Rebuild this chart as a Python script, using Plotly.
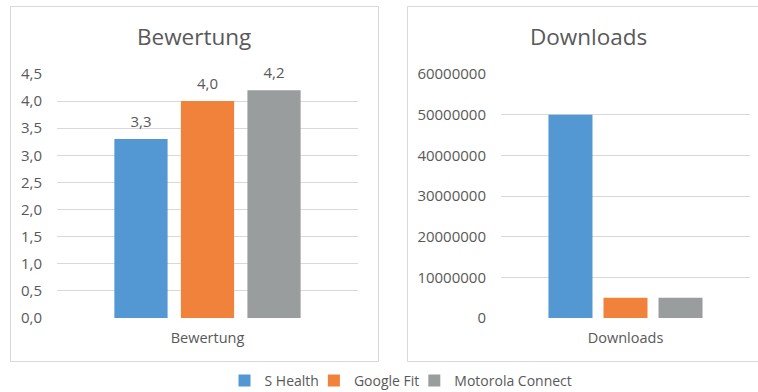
import plotly.graph_objects as go

W, H = 758, 392

series = ["S Health", "Google Fit", "Motorola Connect"]
colors = ["#5397D3", "#F0823B", "#9A9D9D"]
rating_cat = ["Bewertung"]
ratings = [3.3, 4.0, 4.2]
download_cat = ["Downloads"]
downloads = [50000000, 5000000, 5000000]
rating_ticks = [0, 0.5, 1.0, 1.5, 2.0, 2.5, 3.0, 3.5, 4.0, 4.5]
download_ticks = [0, 10000000, 20000000, 30000000, 40000000, 50000000, 60000000]

FONT = "Open Sans"
TXT = "#595959"
GRID = "#D9D9D9"

def px(x):
    return x / W

def py(y):
    return 1 - y / H

fig = go.Figure()
for i, name in enumerate(series):
    fig.add_trace(go.Bar(
        x=rating_cat, y=[ratings[i]], name=name, marker_color=colors[i],
        marker_line_width=0, xaxis="x", yaxis="y", legendgroup=name,
        offsetgroup=str(i),
    ))
# data labels above the rating bars
for i, name in enumerate(series):
    fig.add_trace(go.Scatter(
        x=rating_cat, y=[ratings[i]], mode="markers+text", name=name,
        marker=dict(size=12, opacity=0), offsetgroup=str(i),
        texttemplate="%{y:.1f}", textposition="top center",
        textfont=dict(family=FONT, size=15, color=TXT), cliponaxis=False,
        xaxis="x", yaxis="y", showlegend=False, hoverinfo="skip",
    ))
for i, name in enumerate(series):
    fig.add_trace(go.Bar(
        x=download_cat, y=[downloads[i]], name=name, marker_color=colors[i],
        marker_line_width=0, xaxis="x2", yaxis="y2", legendgroup=name,
        showlegend=False, offsetgroup=str(i),
    ))

ydom = [py(318), py(74)]
common_x = dict(showgrid=False, zeroline=False, showline=False, ticks="",
                tickfont=dict(family=FONT, size=14.5, color=TXT), fixedrange=True,
                ticklabelstandoff=9)
common_y = dict(showgrid=True, gridcolor=GRID, gridwidth=1, zeroline=False,
                showline=False, ticks="", tickfont=dict(family=FONT, size=15, color=TXT),
                domain=ydom, ticklabelstandoff=14)

fig.update_layout(
    width=W, height=H, margin=dict(l=0, r=0, t=0, b=0, autoexpand=False),
    paper_bgcolor="white", plot_bgcolor="white",
    separators=",.",
    barmode="group", bargap=0.337, bargroupgap=0.2,
    scattermode="group", scattergap=0.337,
    font=dict(family=FONT, color=TXT),
    xaxis=dict(domain=[px(57), px(358)], anchor="y", **common_x),
    yaxis=dict(anchor="x", range=[0, 4.5], tickvals=rating_ticks, tickformat=".1f",
               **common_y),
    xaxis2=dict(domain=[px(501), px(750)], anchor="y2", **common_x),
    yaxis2=dict(anchor="x2", range=[0, 60000000], tickvals=download_ticks, tickformat="d",
                **common_y),
    legend=dict(orientation="h", x=px(406), y=py(381), xanchor="center", yanchor="middle",
                font=dict(family=FONT, size=14, color=TXT), traceorder="normal",
                itemwidth=30, indentation=-10, bgcolor="rgba(0,0,0,0)"),
    showlegend=True,
    annotations=[
        dict(text="Bewertung", x=px(194), y=py(37), xref="paper", yref="paper",
             showarrow=False, xanchor="center", yanchor="middle",
             font=dict(family=FONT, size=22.5, color=TXT)),
        dict(text="Downloads", x=px(588), y=py(37), xref="paper", yref="paper",
             showarrow=False, xanchor="center", yanchor="middle",
             font=dict(family=FONT, size=22.5, color=TXT)),
    ],
    shapes=[
        dict(type="rect", xref="paper", yref="paper", x0=px(10.5), x1=px(378.5),
             y0=py(361.5), y1=py(6.5), line=dict(color=GRID, width=1)),
        dict(type="rect", xref="paper", yref="paper", x0=px(407.5), x1=px(770),
             y0=py(361.5), y1=py(6.5), line=dict(color=GRID, width=1)),
    ],
)

fig.write_html("out.html")
